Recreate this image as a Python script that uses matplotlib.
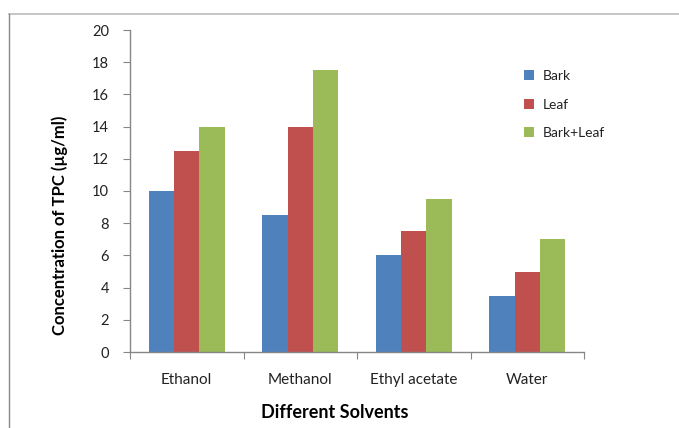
import matplotlib
matplotlib.use("Agg")
import matplotlib.pyplot as plt
import numpy as np
from matplotlib.lines import Line2D

categories = ["Ethanol", "Methanol", "Ethyl acetate", "Water"]
series_names = ["Bark", "Leaf", "Bark+Leaf"]
bark = [10, 8.5, 6, 3.5]
leaf = [12.5, 14, 7.5, 5]
bark_leaf = [14, 17.5, 9.5, 7]
yticks = list(range(0, 21, 2))

colors = ["#4F81BD", "#C0504D", "#9BBB59"]
font = "Lato"

W, H = 679, 428
fig = plt.figure(figsize=(W/100, H/100), dpi=100)
ax = fig.add_axes([130/W, 76/H, 454/W, 322/H])

x = np.arange(len(categories))
w = 1/4.5
for i, (vals, c, name) in enumerate(zip([bark, leaf, bark_leaf], colors, series_names)):
    ax.bar(x + (i - 1) * w, vals, width=w, color=c, label=name, edgecolor="none")

ax.set_xlim(-0.5, len(categories) - 0.5)
ax.set_ylim(0, 20)
ax.set_yticks(yticks)
ax.set_yticklabels([str(t) for t in yticks], fontsize=10.5, family=font, color="#222222")
ax.set_xticks(np.arange(-0.5, len(categories), 1.0))
ax.set_xticklabels([])
ax.set_xticks(x, minor=True)
ax.set_xticklabels(categories, minor=True, fontsize=11, family=font, color="#222222")
ax.tick_params(axis="x", which="minor", length=0, pad=15)
ax.tick_params(axis="x", which="major", length=5, direction="out", color="#868686")
ax.tick_params(axis="y", length=5, direction="out", color="#868686", pad=10)

for s in ["top", "right"]:
    ax.spines[s].set_visible(False)
for s in ["left", "bottom"]:
    ax.spines[s].set_color("#868686")
    ax.spines[s].set_linewidth(1.0)

fig.text(60/W, 1 - 225/H, "Concentration of TPC (µg/ml)", rotation=90, ha="center", va="center",
         fontsize=12, fontweight="bold", family=font)
fig.text(335/W, 1 - 412/H, "Different Solvents", ha="center", va="center",
         fontsize=13, fontweight="bold", family=font)

leg = ax.legend(loc="upper left", bbox_to_anchor=(0.84, 0.915), frameon=False,
                prop={"family": font, "size": 10}, handlelength=0.75, handleheight=0.75,
                labelspacing=1.2, handletextpad=0.6)
for t in leg.get_texts():
    t.set_color("#222222")

# outer chart frame (partial, as in screenshot)
fig.add_artist(Line2D([9/W, 1], [1 - 14/H, 1 - 14/H], transform=fig.transFigure, color="#BBBBBB", lw=1.2))
fig.add_artist(Line2D([9/W, 9/W], [0, 1 - 14/H], transform=fig.transFigure, color="#888888", lw=1.0))

fig.savefig("out.png", dpi=100)
